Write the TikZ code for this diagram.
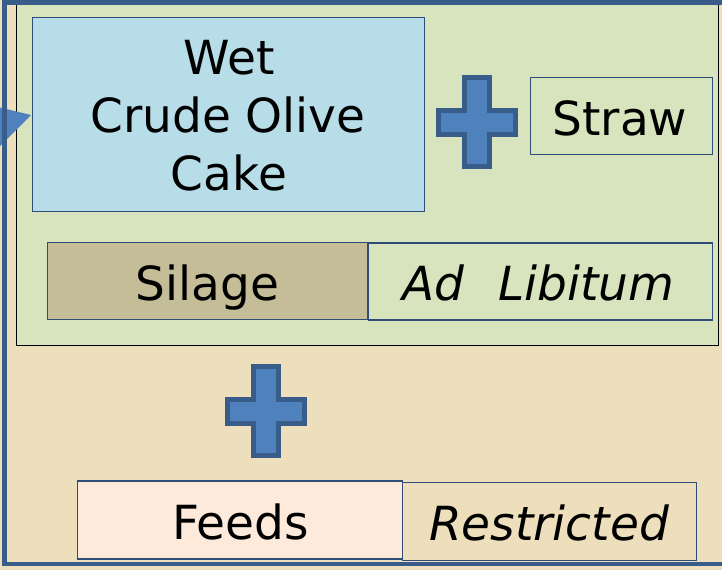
\documentclass[tikz,border=0pt]{standalone}
\usepackage{fontspec}
\setmainfont{DejaVu Sans}
\definecolor{parch}{RGB}{238,223,188}
\definecolor{panelgreen}{HTML}{D7E4BD}
\definecolor{wetblue}{HTML}{B7DEE8}
\definecolor{silagetan}{HTML}{C4BD97}
\definecolor{feedpeach}{HTML}{FDEADA}
\definecolor{edgeblue}{HTML}{385D8A}
\definecolor{boxedge}{HTML}{2F4D78}
\definecolor{fillblue}{HTML}{4F81BD}
\begin{document}
\begin{tikzpicture}[x=1pt,y=-1pt,
  box/.style={draw=boxedge, line width=1.5pt, inner sep=0pt, outer sep=0pt},
  lbl/.style={anchor=base, inner sep=0pt, font=\fontsize{47}{58}\selectfont},
  plusshape/.style={fill=fillblue, draw=edgeblue, line width=5pt, line join=miter},
  frame/.style={draw=edgeblue, line width=4.6pt}]
\useasboundingbox (0,0) rectangle (722,570);
\fill[parch] (0,0) rectangle (722,570);
% green panel
\node[draw=black, line width=1pt, fill=panelgreen, inner sep=0pt,
      minimum width=702pt, minimum height=341pt] (panel) at (367.5,174.5) {};
% incoming arrowhead
\fill[fillblue] (0,107.5) -- (31,115) -- (0,146) -- cycle;
% boxes
\node[box, fill=wetblue, minimum width=392pt, minimum height=194pt] (wet) at (228.5,114.5) {};
\node[box, fill=panelgreen, minimum width=182pt, minimum height=77pt] (straw) at (621.5,116) {};
\node[box, fill=silagetan, minimum width=320pt, minimum height=77pt] (silage) at (207.5,281) {};
\node[box, fill=panelgreen, minimum width=344pt, minimum height=77pt] (adlib) at (540.5,281.5) {};
\node[box, fill=feedpeach, minimum width=325pt, minimum height=78pt] (feeds) at (240,520) {};
\node[box, minimum width=294pt, minimum height=78pt] (restr) at (549.5,521.5) {};
% texts
\node[lbl] (t1) at (229.5,74) {Wet};
\node[lbl] (t2) at (228,132) {Crude Olive};
\node[lbl] (t3) at (229,190) {Cake};
\node[lbl] (tstraw) at (620,135) {Straw};
\node[lbl] (tsilage) at (207.5,300.5) {Silage};
\node[lbl] (tadlib) at (538.5,300.5) {\itshape Ad\hspace{0.72em}Libitum};
\node[lbl] (tfeeds) at (240.5,539) {Feeds};
\node[lbl] (trestr) at (549,540) {\itshape Restricted};
% plus signs
\draw[plusshape] (464.5,77.5) -- (489.5,77.5) -- (489.5,110.5) -- (515.5,110.5) -- (515.5,134.5)
  -- (489.5,134.5) -- (489.5,166.5) -- (464.5,166.5) -- (464.5,134.5) -- (438.5,134.5)
  -- (438.5,110.5) -- (464.5,110.5) -- cycle;
\draw[plusshape] (253.5,366.5) -- (278.5,366.5) -- (278.5,399.5) -- (304.5,399.5) -- (304.5,423.5)
  -- (278.5,423.5) -- (278.5,455.5) -- (253.5,455.5) -- (253.5,423.5) -- (227.5,423.5)
  -- (227.5,399.5) -- (253.5,399.5) -- cycle;
% outer frame
\draw[frame] (740,564) -- (4.7,564) -- (4.7,2.3) -- (740,2.3);
\end{tikzpicture}
\end{document}
